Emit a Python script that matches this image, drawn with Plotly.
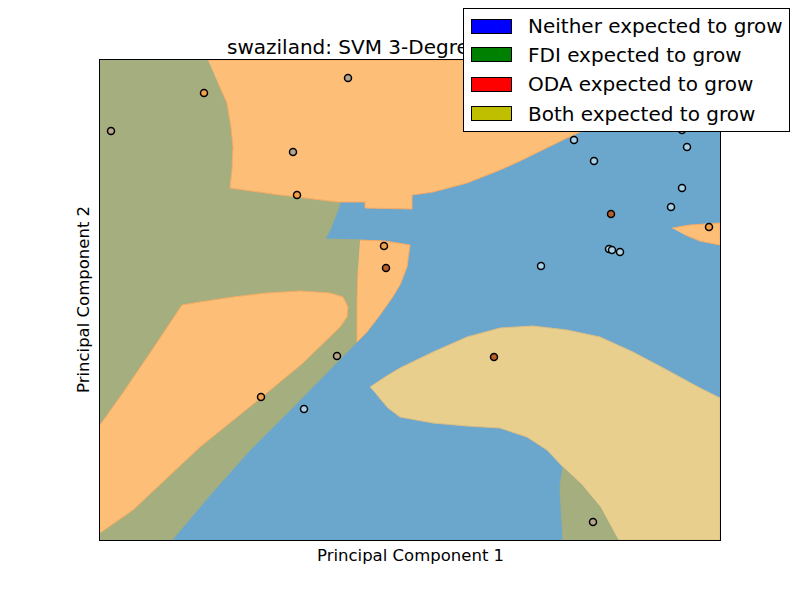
import plotly.graph_objects as go

# ---------------- data ----------------
title_text = "swaziland: SVM 3-Degree Polynomial"
x_label = "Principal Component 1"
y_label = "Principal Component 2"

legend_labels = ["Neither expected to grow", "FDI expected to grow",
                 "ODA expected to grow", "Both expected to grow"]

# observations (projected onto first two principal components)
pc1 = [-2.99, -0.62, -1.17, -0.73, 1.83,
       -2.06, -1.13, -0.26, -1.49, 2.99,
       -0.24, 0.84, 2.01,
       -1.06, 1.31, 1.64, 1.84, 2.72, 2.77, 2.72, 2.61, 1.99, 2.02, 2.10]
pc2 = [1.69, 2.22, 1.48, -0.56, -2.22,
       2.07, 1.05, 0.54, -0.97, 0.73,
       0.32, -0.57, 0.86,
       -1.09, 0.34, 1.60, 1.39, 1.70, 1.53, 1.12, 0.93, 0.51, 0.50, 0.48]
point_class = ["fdi"] * 5 + ["oda"] * 5 + ["both"] * 3 + ["neither"] * 11

# decision-region outlines (PC1, PC2)
fdi_main_x = [-3.10, -2.02, -1.92, -1.83, -1.79, -1.77, -1.78, -1.80, -1.30, -0.72, -0.70,
              -0.75, -0.80, -0.85, -0.50, -0.52, -0.53, -0.53, -0.90, -1.20, -1.60, -2.00,
              -2.38, -3.10]
fdi_main_y = [2.40, 2.40, 2.17, 1.97, 1.73, 1.53, 1.30, 1.12, 1.05, 0.98, 0.96,
              0.83, 0.70, 0.61, 0.60, 0.30, 0.00, -0.42, -0.80, -1.10, -1.50, -1.95,
              -2.40, -2.40]

oda_top_x = [-2.02, 2.80, 2.50, 2.30, 2.10, 1.70, 1.57, 1.35, 1.10, 0.90, 0.57, 0.23, 0.02,
             0.02, -0.45, -0.45, -0.72, -1.30, -1.80, -1.78, -1.77, -1.79, -1.83, -1.92]
oda_top_y = [2.40, 2.40, 2.22, 2.08, 1.92, 1.68, 1.62, 1.51, 1.39, 1.30, 1.17, 1.08, 1.05,
             0.91, 0.92, 0.98, 0.98, 1.05, 1.12, 1.30, 1.53, 1.73, 1.97, 2.17]

oda_low_x = [-3.10, -2.90, -2.60, -2.28, -2.10, -1.77, -1.43, -1.10, -0.80, -0.67,
             -0.62, -0.63, -0.70, -1.07, -1.48, -2.10, -2.77, -3.10]
oda_low_y = [-1.25, -0.97, -0.53, -0.05, -0.02, 0.03, 0.07, 0.09, 0.07, 0.03,
             -0.07, -0.17, -0.27, -0.63, -0.97, -1.47, -2.10, -2.33]

oda_mid_x = [-0.50, -0.25, 0.00, -0.03, -0.10, -0.18, -0.30, -0.43, -0.53, -0.53, -0.52]
oda_mid_y = [0.60, 0.59, 0.55, 0.33, 0.15, 0.02, -0.15, -0.32, -0.42, 0.00, 0.30]

oda_right_x = [2.62, 2.80, 3.10, 3.10, 2.90, 2.75]
oda_right_y = [0.72, 0.75, 0.77, 0.55, 0.59, 0.65]

both_x = [-0.40, -0.25, -0.10, 0.10, 0.23, 0.57, 0.90, 1.23, 1.57, 1.90, 2.23, 2.57,
          2.90, 3.10, 3.10, 2.08, 1.90, 1.70, 1.53, 1.37, 1.17, 0.90, 0.57, 0.23,
          -0.10, -0.22, -0.33]
both_y = [-0.87, -0.77, -0.68, -0.58, -0.52, -0.37, -0.28, -0.26, -0.30, -0.37, -0.52,
          -0.70, -0.88, -0.98, -2.40, -2.40, -2.07, -1.83, -1.67, -1.50, -1.37, -1.28,
          -1.26, -1.23, -1.17, -1.08, -0.95]

fdi_small_x = [1.53, 1.50, 1.52, 1.53, 2.08, 1.90, 1.70]
fdi_small_y = [-1.67, -1.87, -2.23, -2.40, -2.40, -2.07, -1.83]

# ---------------- styles ----------------
region_colors = {"neither": "#6ba7cd", "fdi": "#a4ae7f", "oda": "#fdbf78", "both": "#e8cf8d"}
edge_colors = {"fdi": "#a4ae7f", "oda": "#f8aa62", "both": "#dcbd84"}
point_colors = {"neither": "#a9d3ea", "fdi": "#b5a68d", "oda": "#f5a04a", "both": "#b5602c"}
legend_colors = ["#0000ff", "#008000", "#ff0000", "#bfbf00"]
FONT = "DejaVu Sans"

X_RANGE = [-3.1, 3.1]
Y_RANGE = [-2.4, 2.4]

fig = go.Figure()

regions = [
    (fdi_main_x, fdi_main_y, "fdi"),
    (oda_top_x, oda_top_y, "oda"),
    (oda_low_x, oda_low_y, "oda"),
    (oda_mid_x, oda_mid_y, "oda"),
    (oda_right_x, oda_right_y, "oda"),
    (both_x, both_y, "both"),
    (fdi_small_x, fdi_small_y, "fdi"),
]
for rx, ry, cls in regions:
    fig.add_trace(go.Scatter(
        x=rx, y=ry, mode="lines", fill="toself",
        fillcolor=region_colors[cls],
        line=dict(color=edge_colors[cls], width=1),
        hoverinfo="skip", showlegend=False))

fig.add_trace(go.Scatter(
    x=pc1, y=pc2, mode="markers",
    marker=dict(size=7, color=[point_colors[c] for c in point_class],
                line=dict(color="black", width=1.5)),
    showlegend=False, hoverinfo="x+y"))

# ---------------- layout ----------------
L, R, T, B = 100, 80, 60, 60
W, H = 800, 600
pw, ph = W - L - R, H - T - B


def px_to_paper_x(px):
    return (px - L) / pw


def px_to_paper_y(py):
    return (H - B - py) / ph


annotations = []

# title first, so the legend box (drawn after it) hides its tail as in the original
annotations.append(dict(text=title_text, xref="paper", yref="paper",
                        x=px_to_paper_x(225), y=px_to_paper_y(47),
                        xanchor="left", yanchor="middle", showarrow=False,
                        font=dict(family=FONT, size=20, color="black")))

# legend box (manual, matplotlib-style)
annotations.append(dict(text=" ", xref="paper", yref="paper",
                        x=px_to_paper_x(463), y=px_to_paper_y(8),
                        xanchor="left", yanchor="top", showarrow=False,
                        width=325, height=122, borderpad=0, borderwidth=1,
                        bgcolor="white", bordercolor="black",
                        font=dict(family=FONT, size=10, color="black")))
row_centers = [26.5, 55, 84, 113.5]
for lab, col, yc in zip(legend_labels, legend_colors, row_centers):
    annotations.append(dict(text=" ", xref="paper", yref="paper",
                            x=px_to_paper_x(471), y=px_to_paper_y(yc),
                            xanchor="left", yanchor="middle", showarrow=False,
                            width=39, height=13, borderpad=0, borderwidth=1,
                            bgcolor=col, bordercolor="black",
                            font=dict(family=FONT, size=8, color=col)))
    annotations.append(dict(text=lab, xref="paper", yref="paper",
                            x=px_to_paper_x(526), y=px_to_paper_y(yc),
                            xanchor="left", yanchor="middle", showarrow=False,
                            font=dict(family=FONT, size=20, color="black")))

annotations.append(dict(text=x_label, xref="paper", yref="paper",
                        x=0.5, y=px_to_paper_y(555), xanchor="center", yanchor="middle",
                        showarrow=False, font=dict(family=FONT, size=16.5, color="black")))
annotations.append(dict(text=y_label, xref="paper", yref="paper", textangle=-90,
                        x=px_to_paper_x(83), y=0.5, xanchor="center", yanchor="middle",
                        showarrow=False, font=dict(family=FONT, size=16.5, color="black")))

fig.update_layout(
    width=W, height=H,
    margin=dict(l=L, r=R, t=T, b=B),
    paper_bgcolor="white",
    plot_bgcolor=region_colors["neither"],
    xaxis=dict(range=X_RANGE, showgrid=False, zeroline=False, showticklabels=False,
               ticks="", showline=True, linecolor="black", linewidth=1, mirror=True),
    yaxis=dict(range=Y_RANGE, showgrid=False, zeroline=False, showticklabels=False,
               ticks="", showline=True, linecolor="black", linewidth=1, mirror=True),
    annotations=annotations,
    showlegend=False,
)

fig.write_html("out.html", config={"displayModeBar": False},
               post_script="document.body.style.margin='0px';document.body.style.overflow='hidden';")
